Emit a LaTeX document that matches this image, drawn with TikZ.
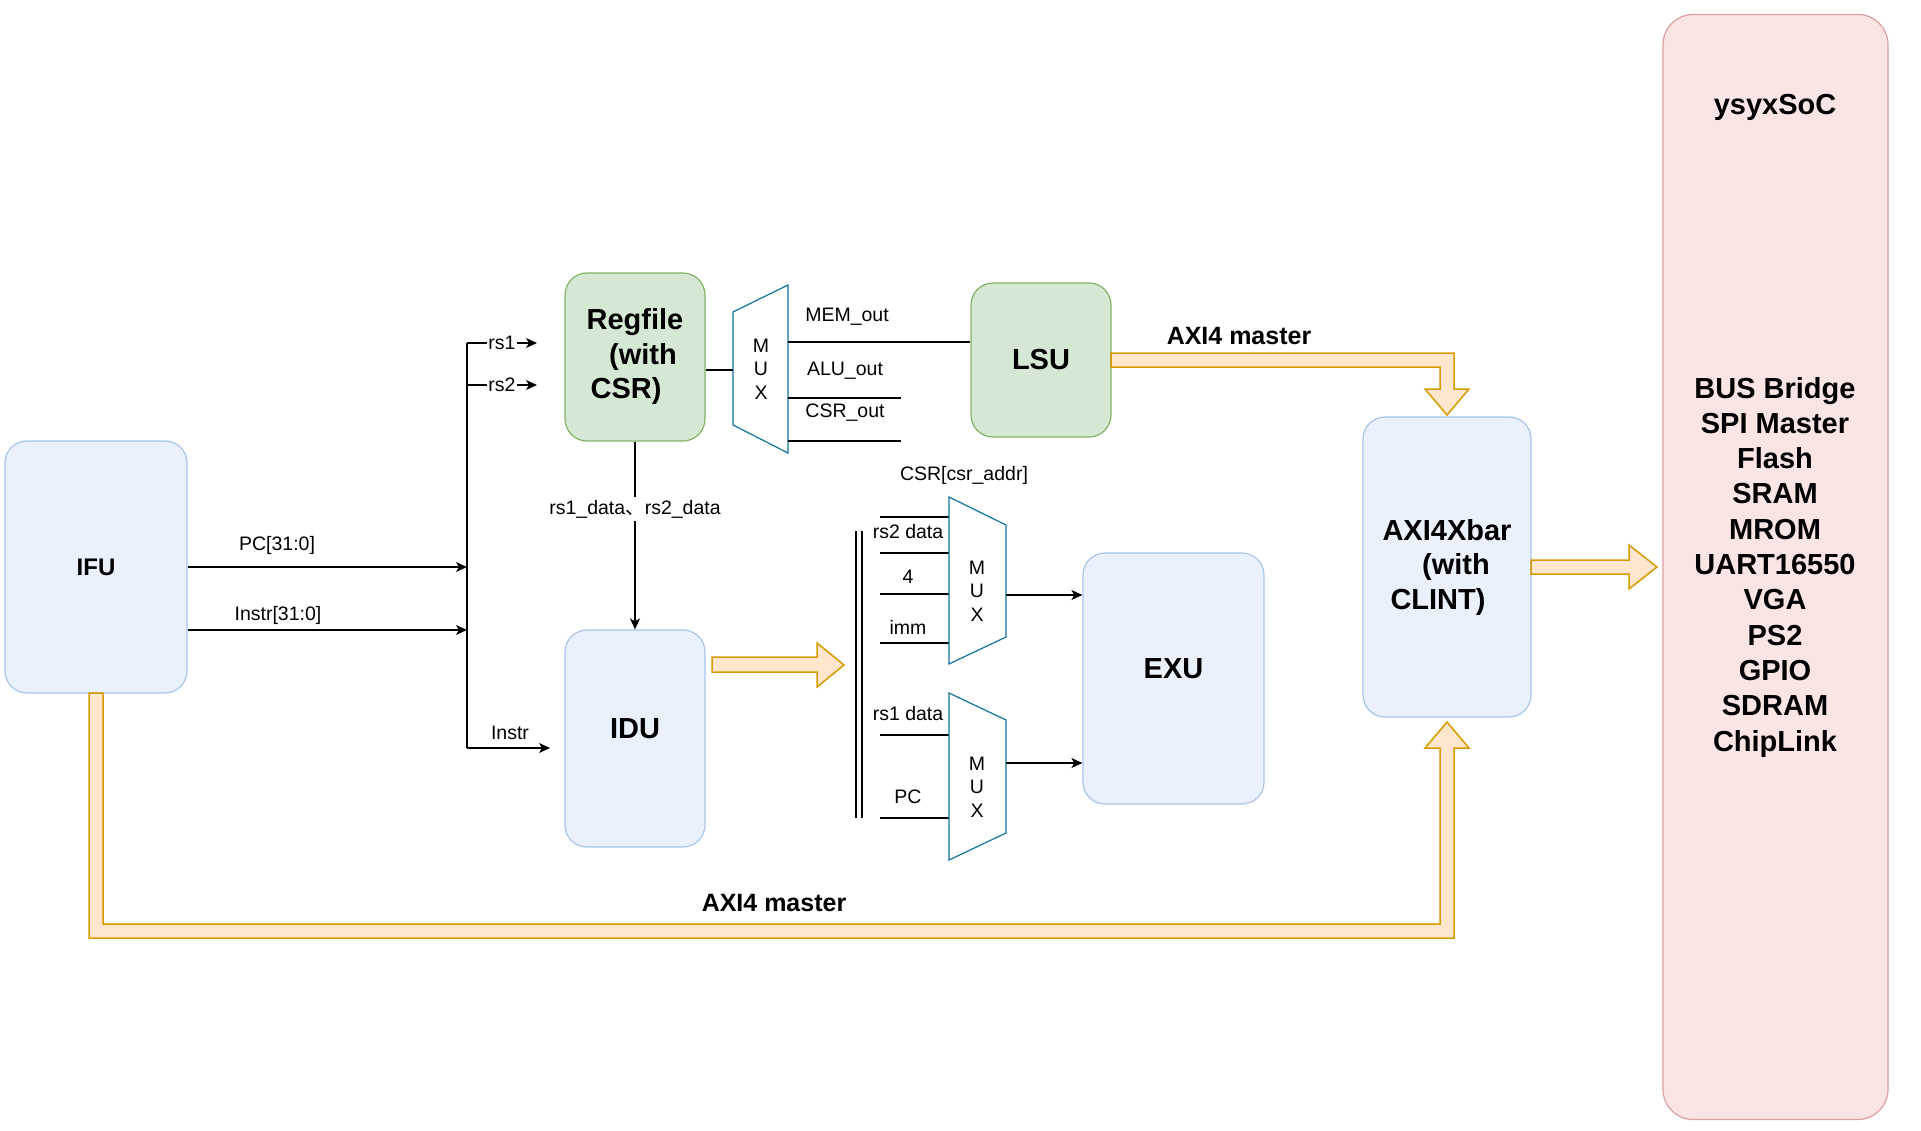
\documentclass[tikz,border=0pt]{standalone}
\usepackage{fontspec}
\setmainfont{Liberation Sans}
\newfontfamily\cjk{Noto Sans CJK SC}
\usetikzlibrary{arrows.meta}
\definecolor{UnitBlue}{RGB}{234,241,252}
\definecolor{UnitBlueLine}{RGB}{169,196,235}
\definecolor{UnitGreen}{RGB}{213,232,212}
\definecolor{UnitGreenLine}{RGB}{130,179,102}
\definecolor{SocPink}{RGB}{250,228,228}
\definecolor{SocPinkLine}{RGB}{220,160,158}
\definecolor{BusFill}{RGB}{255,230,204}
\definecolor{BusLine}{RGB}{215,155,0}
\definecolor{MuxLine}{RGB}{16,115,158}

\begin{document}
\begin{tikzpicture}[x=1pt,y=-1pt,
    unit/.style={draw,rounded corners=22pt,line width=1.2pt,align=center,font=\fontsize{29}{34.5}\selectfont\bfseries},
    blueunit/.style={unit,fill=UnitBlue,draw=UnitBlueLine},
    greenunit/.style={unit,fill=UnitGreen,draw=UnitGreenLine},
    wire/.style={line width=1.1pt},
    sig/.style={wire,-{Stealth[length=11pt,width=10pt,inset=3pt]}},
    lbl/.style={font=\fontsize{19.5}{23.5}\selectfont,inner sep=1pt},
    muxbody/.style={draw=MuxLine,line width=1.2pt,fill=white},
    muxtxt/.style={lbl,align=center},
    bus/.style={draw=BusLine,fill=BusFill,line width=1.5pt,line join=miter},
    buslbl/.style={font=\fontsize{25}{30}\selectfont\bfseries}]
        \useasboundingbox (0,0) rectangle (1921,1131);

        % units
        \node[blueunit,minimum width=182pt,minimum height=252pt,font=\fontsize{24}{28}\selectfont\bfseries] (ifu) at (96,567) {IFU};
        \node[greenunit,minimum width=140pt,minimum height=168pt] (regfile) at (635,357) {Regfile\\\hspace*{16pt}(with\\CSR)\hspace*{18pt}};
        \node[blueunit,minimum width=140pt,minimum height=217pt] (idu) at (635,738.5) {\raisebox{20pt}{IDU}};
        \node[greenunit,minimum width=140pt,minimum height=154pt] (lsu) at (1041,360) {LSU};
        \node[blueunit,minimum width=181pt,minimum height=251pt] (exu) at (1173.5,678.5) {\raisebox{20pt}{EXU}};
        \node[blueunit,minimum width=168pt,minimum height=300pt] (xbar) at (1447,567) {AXI4Xbar\\\hspace*{18pt}(with\\CLINT)\hspace*{18pt}};
        \node[unit,fill=SocPink,draw=SocPinkLine,rounded corners=30pt,minimum width=225pt,minimum height=1105pt] (soc) at (1775.5,567) {};
        \node[font=\fontsize{29}{35.3}\selectfont\bfseries] (soctitle) at (1775,107) {ysyxSoC};
        \node[font=\fontsize{29}{35.3}\selectfont\bfseries,align=center] (socparts) at (1775,567)
          {BUS Bridge\\SPI Master\\Flash\\SRAM\\MROM\\UART16550\\VGA\\PS2\\GPIO\\SDRAM\\ChipLink};

        % IFU outputs and the fan-out line
        \coordinate (bustop) at (467,343);
        \coordinate (busbot) at (467,748);
        \draw[wire] (bustop) -- (busbot);
        \draw[sig] (ifu.east) -- (ifu.east -| bustop);
        \node[lbl] (pclbl) at (277,545) {PC[31:0]};
        \draw[sig] ([yshift=-63pt]ifu.east) -- ([yshift=-63pt]ifu.east -| bustop);
        \node[lbl] (instrlbl) at (278,615) {Instr[31:0]};
        \coordinate (rsone) at (537,343);
        \coordinate (rstwo) at (537,385);
        \draw[sig] (bustop) -- (rsone) node[lbl,fill=white,midway] (rsonelbl) {rs1};
        \draw[sig] (bustop |- rstwo) -- (rstwo) node[lbl,fill=white,midway] (rstwolbl) {rs2};
        \coordinate (instrend) at (550,748);
        \draw[sig] (busbot) -- (instrend);
        \node[lbl] (instrtag) at (510,733) {Instr};

        % regfile read data
        \draw[sig] (regfile.south) -- (idu.north)
          node[lbl,fill=white,pos=0.36,inner sep=3pt] (rdlbl) {rs1\_data{\cjk 、}rs2\_data};

        % write-back mux
        \draw[muxbody] (733,312) -- (788,285) -- (788,453) -- (733,425) -- cycle;
        \node[muxtxt] (mux1) at (761,369) {M\\U\\X};
        \coordinate (m1in) at (733,370);
        \coordinate (memout) at (788,342);
        \coordinate (aluout) at (788,398);
        \coordinate (aluend) at (901,398);
        \coordinate (csrout) at (788,441);
        \coordinate (csrend) at (901,441);
        \draw[wire] (regfile.east |- m1in) -- (m1in);
        \draw[wire] (memout) -- (memout -| lsu.west);
        \draw[wire] (aluout) -- (aluend);
        \draw[wire] (csrout) -- (csrend);
        \node[lbl] (memlbl) at (847,317) {MEM\_out};
        \node[lbl] (alulbl) at (845,371) {ALU\_out};
        \node[lbl] (csrolbl) at (845,413) {CSR\_out};

        % operand muxes
        \node[lbl] (csrlbl) at (964,475) {CSR[csr\_addr]};
        \draw[wire] (856,531) -- (856,818);
        \draw[wire] (862,531) -- (862,818);
        \foreach \y/\nm in {517/a,553/b,594/c,643/d,735/e,818/f} {
          \coordinate (src\nm) at (880,\y);
          \draw[wire] (src\nm) -- ++(69,0);
        }
        \foreach \y/\txt in {532/rs2 data,577/4,627/imm,714/rs1 data,797/PC} {
          \node[lbl] (op\y) at (908,\y) {\txt};
        }
        \draw[muxbody] (949,497) -- (1006,525) -- (1006,637) -- (949,664) -- cycle;
        \node[muxtxt] (mux2) at (977,591) {M\\U\\X};
        \draw[muxbody] (949,693) -- (1006,720) -- (1006,833) -- (949,860) -- cycle;
        \node[muxtxt] (mux3) at (977,787) {M\\U\\X};
        \coordinate (mux2out) at (1006,595);
        \coordinate (mux3out) at (1006,763);
        \draw[sig] (mux2out) -- (mux2out -| exu.west);
        \draw[sig] (mux3out) -- (mux3out -| exu.west);

        % buses
        \draw[bus] (712,657) -- (817,657) -- (817,643) -- (844,665) -- (817,687) -- (817,672) -- (712,672) -- cycle;
        \draw[bus] (1111,353) -- (1454,353) -- (1454,389) -- (1469,389) -- (1447,415) -- (1425,389) -- (1440,389) -- (1440,367) -- (1111,367) -- cycle;
        \node[buslbl] (lsuaxi) at (1239,336) {AXI4 master};
        \draw[bus] (89,693) -- (89,938) -- (1454,938) -- (1454,748) -- (1469,748) -- (1447,722) -- (1425,748) -- (1440,748) -- (1440,924) -- (103,924) -- (103,693) -- cycle;
        \node[buslbl] (ifuaxi) at (774,903) {AXI4 master};
        \draw[bus] (1531,560) -- (1629,560) -- (1629,545) -- (1657,567) -- (1629,589) -- (1629,574) -- (1531,574) -- cycle;
      \end{tikzpicture}
\end{document}
